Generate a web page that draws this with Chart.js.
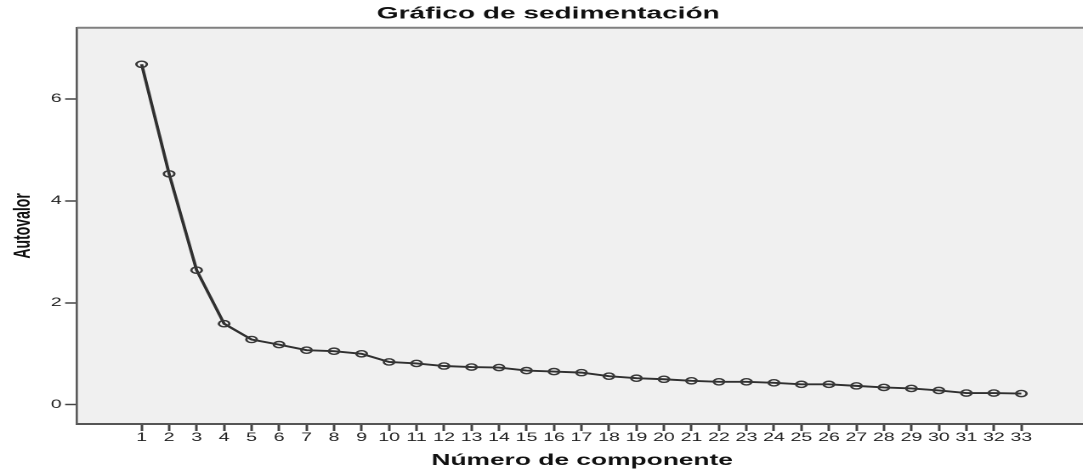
<!DOCTYPE html>
<html>
<head>
<meta charset="utf-8">
<script src="https://cdn.jsdelivr.net/npm/chart.js@4/dist/chart.umd.min.js"></script>
<style>
html,body{margin:0;padding:0;overflow:hidden;width:1083px;height:472px;background:#ffffff}
#wrap{position:absolute;left:0;top:0;width:645px;height:472px;transform:scaleX(1.7);transform-origin:0 0}
canvas{display:block}
</style>
</head>
<body>
<div id="wrap"><canvas id="c" width="645" height="472"></canvas></div>
<script>
// ---- data ----
const components = [1,2,3,4,5,6,7,8,9,10,11,12,13,14,15,16,17,18,19,20,21,22,23,24,25,26,27,28,29,30,31,32,33];
const eigenvalues = [6.68,4.53,2.64,1.59,1.28,1.18,1.07,1.05,1.00,0.84,0.81,0.76,0.74,0.73,0.67,0.65,0.63,0.56,0.52,0.50,0.47,0.45,0.45,0.43,0.40,0.40,0.37,0.34,0.32,0.28,0.23,0.23,0.22];
const yTickValues = [0,2,4,6];
const chartTitle = 'Gráfico de sedimentación';
const xAxisTitle = 'Número de componente';
const yAxisTitle = 'Autovalor';

const FONT = "'Liberation Sans', Arial, sans-serif";

const plotFrame = {
  id: 'plotFrame',
  beforeDraw(chart) {
    const {ctx, chartArea: a} = chart;
    ctx.save();
    ctx.fillStyle = '#f0f0f0';
    ctx.fillRect(a.left, a.top, a.right - a.left, a.bottom - a.top);
    ctx.restore();
  },
  afterDraw(chart) {
    const {ctx, chartArea: a} = chart;
    ctx.save();
    ctx.strokeStyle = '#808080';
    ctx.lineWidth = 2;
    ctx.beginPath();
    ctx.moveTo(a.left, a.top);
    ctx.lineTo(a.right, a.top);
    ctx.stroke();
    ctx.restore();
  }
};

new Chart(document.getElementById('c'), {
  type: 'scatter',
  data: {
    datasets: [{
      data: components.map((c, i) => ({x: c, y: eigenvalues[i]})),
      showLine: true,
      borderColor: '#303030',
      borderWidth: 1.9,
      tension: 0,
      pointRadius: 3.1,
      pointBorderWidth: 1.4,
      pointBorderColor: '#383838',
      pointBackgroundColor: 'rgba(0,0,0,0)'
    }]
  },
  options: {
    responsive: false,
    animation: false,
    devicePixelRatio: 2,
    layout: {padding: 0},
    plugins: {
      legend: {display: false},
      tooltip: {enabled: false},
      title: {
        display: true,
        text: chartTitle,
        color: '#111111',
        font: {family: FONT, size: 16.5, weight: 'bold'},
        padding: {top: 4, bottom: 4}
      }
    },
    scales: {
      x: {
        type: 'linear',
        min: -1.35,
        max: 35.4,
        afterBuildTicks: (s) => { s.ticks = components.map(v => ({value: v})); },
        afterFit: (s) => { s.height = 48; },
        ticks: {
          autoSkip: false,
          maxRotation: 0,
          padding: 0,
          color: '#222222',
          font: {family: FONT, size: 11.5}
        },
        grid: {drawOnChartArea: false, drawTicks: true, tickLength: 7, color: '#444444', tickWidth: 1.5},
        border: {display: true, color: '#555555', width: 2},
        title: {
          display: true,
          text: xAxisTitle,
          color: '#111111',
          font: {family: FONT, size: 15.5, weight: 'bold'},
          padding: {top: 0, bottom: 2}
        }
      },
      y: {
        type: 'linear',
        min: -0.378,
        max: 7.396,
        afterBuildTicks: (s) => { s.ticks = yTickValues.map(v => ({value: v})); },
        afterFit: (s) => { s.width = 45.3; },
        ticks: {
          padding: 2,
          color: '#222222',
          font: {family: FONT, size: 11.5}
        },
        grid: {drawOnChartArea: false, drawTicks: true, tickLength: 7, color: '#444444', tickWidth: 1.5},
        border: {display: true, color: '#5a5a5a', width: 1.3},
        title: {
          display: true,
          text: yAxisTitle,
          color: '#111111',
          font: {family: FONT, size: 14, weight: 'bold'},
          padding: {top: 5, bottom: 0}
        }
      }
    }
  },
  plugins: [plotFrame]
});
</script>
</body>
</html>
